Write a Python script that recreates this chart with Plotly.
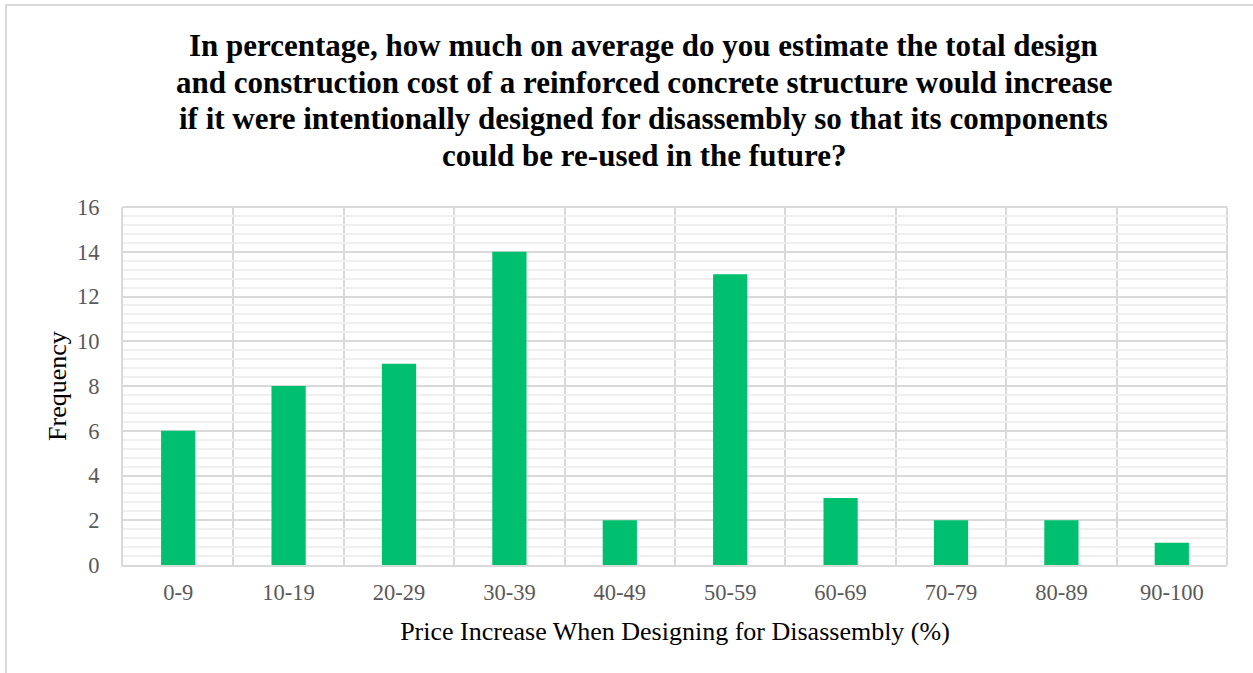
import plotly.graph_objects as go

categories = ["0-9", "10-19", "20-29", "30-39", "40-49", "50-59", "60-69", "70-79", "80-89", "90-100"]
frequency = [6, 8, 9, 14, 2, 13, 3, 2, 2, 1]
y_ticks = [0, 2, 4, 6, 8, 10, 12, 14, 16]
title_lines = [
    "In percentage, how much on average do you estimate the total design",
    "and construction cost of a reinforced concrete structure would increase",
    "if it were intentionally designed for disassembly so that its components",
    "could be re-used in the future?",
]

W, H = 1253, 673
L, R, T, B = 123, 26, 207, 108
pw, ph = W - L - R, H - T - B
SERIF = "Liberation Serif, Times New Roman, serif"

fig = go.Figure()
fig.add_trace(go.Bar(x=list(range(len(categories))), y=frequency,
                     marker=dict(color="#00BF6F", line=dict(width=0)),
                     width=0.31, hoverinfo="x+y"))

grid_c = "#D9D9D9"
fig.update_layout(
    width=W, height=H,
    margin=dict(l=L, r=R, t=T, b=B),
    paper_bgcolor="white", plot_bgcolor="white",
    font=dict(family=SERIF, color="#595959", size=22),
    showlegend=False,
    xaxis=dict(
        range=[-0.5, len(categories) - 0.5],
        tickmode="array", tickvals=list(range(len(categories))), ticktext=categories,
        tickfont=dict(size=22.5),
        showgrid=False, zeroline=False,
        showline=True, linecolor=grid_c, linewidth=2,
        ticks="", ticklabelstandoff=6,
        title=dict(text="Price Increase When Designing for Disassembly (%)",
                   font=dict(color="black", size=26), standoff=18),
        minor=dict(tickvals=[i + 0.5 for i in range(len(categories))],
                   showgrid=True, gridcolor=grid_c, gridwidth=2),
    ),
    yaxis=dict(
        range=[0, 16], tickmode="array", tickvals=y_ticks,
        tickfont=dict(size=22.5),
        showgrid=True, gridcolor=grid_c, gridwidth=2,
        zeroline=False, showline=True, linecolor=grid_c, linewidth=2,
        ticks="", ticklabelstandoff=17,
        minor=dict(dtick=0.4, showgrid=True, gridcolor="#EFEFEF", gridwidth=2),
        title=dict(text="Frequency", font=dict(color="black", size=26), standoff=3),
    ),
)

title_y = [45, 82, 118, 155]
for line, py in zip(title_lines, title_y):
    fig.add_annotation(text="<b>" + line + "</b>", xref="paper", yref="paper",
                       x=(W / 2 + 17 - L) / pw, y=1 + (T - py) / ph,
                       xanchor="center", yanchor="middle", showarrow=False,
                       font=dict(family=SERIF, size=31, color="black"))

# right/top border of plot area and outer chart border
fig.add_shape(type="line", xref="paper", yref="paper", x0=1, x1=1, y0=0, y1=1,
              line=dict(color=grid_c, width=2), layer="below")
fig.add_shape(type="line", xref="paper", yref="paper", x0=0, x1=1, y0=1, y1=1,
              line=dict(color=grid_c, width=2), layer="below")
fig.add_shape(type="rect", xref="paper", yref="paper",
              x0=(6 - L) / pw, x1=(1262 - L) / pw,
              y0=(H - B - 682) / ph, y1=1 + (T - 5) / ph,
              line=dict(color=grid_c, width=2))

fig.write_html("out.html", config={"displayModeBar": False},
               post_script="document.body.style.margin='0px';document.body.style.overflow='hidden';")
